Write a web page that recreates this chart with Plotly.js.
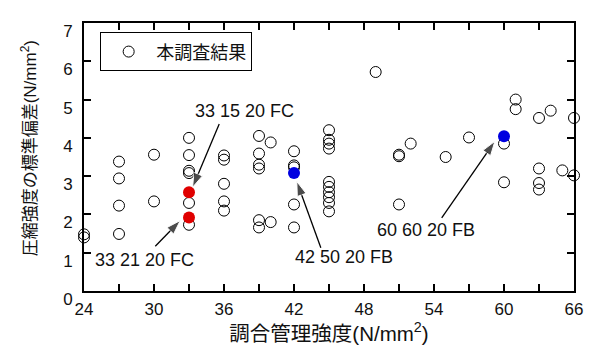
<!DOCTYPE html>
<html>
<head>
<meta charset="utf-8">
<script src="https://cdn.plot.ly/plotly-3.0.1.min.js"></script>
<style>html,body{margin:0;padding:0;background:#fff;}#chart{width:590px;height:345px;}</style>
</head>
<body>
<div id="chart"></div>
<script>
// Survey results (open circles)
const surveyX = [24,24, 27,27,27,27, 30,30, 33,33,33,33,33,33, 36,36,36,36,36,
  39,39,39,39,39,39, 40,40, 42,42,42,42,42,
  45,45,45,45,45,45,45,45,45,45, 49, 51,51,51, 52, 55, 57, 60,60, 61,61,
  63,63,63,63, 64, 65, 66,66];
const surveyY = [1.48,1.40, 3.38,2.94,2.23,1.49, 3.56,2.34, 4.00,3.55,3.14,3.08,2.30,1.73,
  3.54,3.43,2.80,2.34,2.10,
  4.05,3.59,3.30,3.20,1.85,1.66, 3.88,1.80, 3.65,3.28,3.23,2.26,1.66,
  4.20,3.95,3.85,3.72,2.85,2.72,2.58,2.45,2.30,2.08, 5.72, 3.56,3.52,2.26, 3.85, 3.50, 4.01, 3.85,2.84, 5.00,4.75,
  4.52,3.20,2.82,2.65, 4.71, 3.15, 4.52,3.02];
// Highlighted cases
const redX = [33, 33];
const redY = [2.58, 1.92];
const blueX = [42, 60];
const blueY = [3.08, 4.04];

// Axis ticks
const xTickVals = [24,30,36,42,48,54,60,66];
const xTickText = ["24","30","36","42","48","54","60","66"];
const xMinorStep = 3;
const yTickVals = [0,1,2,3,4,5,6,7];

// Titles
const xTitle = '調合管理強度(N/mm<sup>2</sup>)';
const yTitle = '圧縮強度の標準偏差(N/mm<sup>2</sup>)';

// Case labels and arrows (head x,y ; tail x,y ; label x,y)
const labels = ["33 15 20 FC", "33 21 20 FC", "42 50 20 FB", "60 60 20 FB"];
const headX = [33.31, 32.25, 42.24, 59.22];
const headY = [2.71, 1.84, 2.86, 3.91];
const tailX = [35.59, 30.11, 44.30, 54.66];
const tailY = [4.36, 1.17, 1.13, 1.91];
const labelX = [37.76, 29.15, 46.25, 53.31];
const labelY = [4.69, 0.82, 0.90, 1.60];

const FONT = "'Liberation Sans', Arial, 'Noto Sans CJK JP', sans-serif";

const traces = [
  {x: surveyX, y: surveyY, type: 'scatter', mode: 'markers', name: '本調査結果',
   cliponaxis: false,
   marker: {symbol: 'circle-open', size: 11, color: '#000', line: {width: 1, color: '#000'}}},
  {x: redX, y: redY, type: 'scatter', mode: 'markers', showlegend: false, cliponaxis: false,
   marker: {symbol: 'circle', size: 12, color: '#e00000'}},
  {x: blueX, y: blueY, type: 'scatter', mode: 'markers', showlegend: false, cliponaxis: false,
   marker: {symbol: 'circle', size: 12, color: '#0000e0'}}
];

// arrows: line from tail to head with an arrow marker at the head
for (let i = 0; i < labels.length; i++) {
  traces.push({x: [tailX[i], headX[i]], y: [tailY[i], headY[i]], type: 'scatter',
    mode: 'lines+markers', showlegend: false, hoverinfo: 'skip',
    line: {color: '#000', width: 1.3},
    marker: {symbol: 'arrow', angleref: 'previous', size: [0, 15], color: '#000'}});
}

const annotations = [];
for (let i = 0; i < labels.length; i++) {
  annotations.push({x: labelX[i], y: labelY[i], xref: 'x', yref: 'y', text: labels[i],
    showarrow: false, font: {family: FONT, size: 18, color: '#111'}});
}
// y-axis title placed precisely
annotations.push({xref: 'paper', yref: 'paper', x: -0.113, y: 0.531, xanchor: 'center', yanchor: 'middle',
  text: yTitle, textangle: -90, showarrow: false, font: {family: FONT, size: 17, color: '#111'}});

const layout = {
  width: 590, height: 345,
  margin: {l: 84, r: 16, t: 23, b: 54},
  paper_bgcolor: '#fff', plot_bgcolor: '#fff',
  font: {family: FONT, size: 17, color: '#111'},
  showlegend: true,
  legend: {x: 0.033, y: 0.965, xanchor: 'left', yanchor: 'top', itemwidth: 45,
    bgcolor: '#fff', bordercolor: '#000', borderwidth: 1,
    font: {family: FONT, size: 18, color: '#111'}},
  xaxis: {range: [24, 66], tickmode: 'array', tickvals: xTickVals, ticktext: xTickText,
    ticks: 'inside', ticklen: 7, tickwidth: 2, tickcolor: '#000',
    minor: {tick0: 24, dtick: xMinorStep, ticks: 'inside', ticklen: 7, tickwidth: 2, tickcolor: '#000', showgrid: false},
    showline: true, linewidth: 2, linecolor: '#000', mirror: 'ticks',
    showgrid: false, zeroline: false, ticklabelstandoff: 2,
    title: {text: xTitle, font: {family: FONT, size: 20.5, color: '#111'}, standoff: 0}},
  yaxis: {range: [0, 7], tickmode: 'array', tickvals: yTickVals,
    ticks: 'inside', ticklen: 7, tickwidth: 2, tickcolor: '#000',
    showline: true, linewidth: 2, linecolor: '#000', mirror: 'ticks',
    showgrid: false, zeroline: false, ticklabelshift: 8, ticklabelstandoff: 6},
  annotations: annotations
};

Plotly.newPlot('chart', traces, layout, {displayModeBar: false, staticPlot: true});
</script>
</body>
</html>
